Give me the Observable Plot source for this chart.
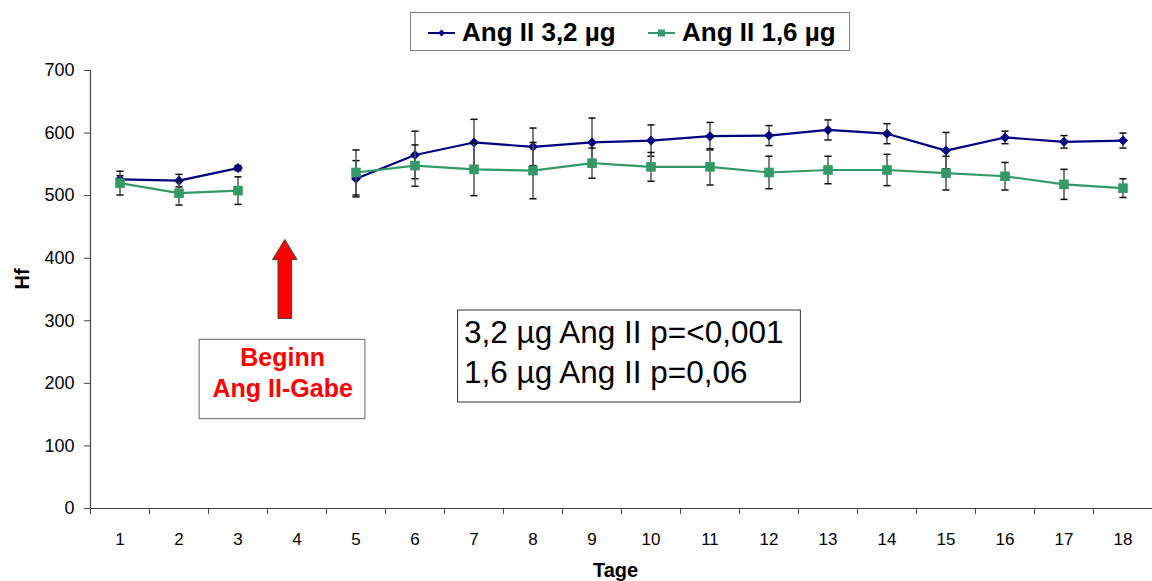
<!DOCTYPE html>
<html><head><meta charset="utf-8">
<script src="https://cdn.jsdelivr.net/npm/d3@7"></script>
<script src="https://cdn.jsdelivr.net/npm/@observablehq/plot@0.6"></script>
<style>
body{margin:0;background:#fff;font-family:"Liberation Sans",Arial,sans-serif;}
#top{width:1152px;height:58px;}
#chart svg{display:block;}
</style></head><body>
<div id="top"></div>
<div id="chart"></div>
<script>
// ---- data ----
const days = d3.range(1, 19);
const seriesNames = ["Ang II 3,2 µg", "Ang II 1,6 µg"];
const hf32  = [526, 524, 544, null, 527, 565, 585, 578, 585, 588, 595, 596, 605, 599, 572, 593, 586, 588];
const err32 = [6, 10, 4, null, 29, 38, 37, 30, 39, 25, 22, 16, 16, 16, 29, 10, 10, 12];
const hf16  = [520, 504, 508, null, 537, 548, 542, 540, 552, 546, 546, 537, 541, 541, 536, 531, 518, 512];
const err16 = [19, 19, 22, null, 36, 33, 42, 45, 24, 23, 29, 26, 22, 25, 27, 22, 24, 15];
const yTicks = [0, 100, 200, 300, 400, 500, 600, 700];
const statsLines = ["3,2 µg Ang II p=<0,001", "1,6 µg Ang II p=0,06"];
const beginnLines = ["Beginn", "Ang II-Gabe"];
const xLabel = "Tage", yLabel = "Hf";

const navy = "#000080", green = "#339966";

const rows32 = days.map((d, i) => ({day: d, v: hf32[i], e: err32[i]}));
const rows16 = days.map((d, i) => ({day: d, v: hf16[i], e: err16[i]}));
const ok = rows => rows.filter(r => r.v != null);

// ---- symbols ----
const diamond = {draw(ctx) { const s = 5; ctx.moveTo(0, -s); ctx.lineTo(s, 0); ctx.lineTo(0, s); ctx.lineTo(-s, 0); ctx.closePath(); }};
const square = {draw(ctx) { const s = 4.8; ctx.rect(-s, -s, 2 * s, 2 * s); }};
const cap = {draw(ctx) { ctx.moveTo(-3.6, 0); ctx.lineTo(3.6, 0); }};
const blockArrow = {draw(ctx) {
  ctx.moveTo(0, -40); ctx.lineTo(12.2, -20); ctx.lineTo(6.8, -20); ctx.lineTo(6.8, 39);
  ctx.lineTo(-6.8, 39); ctx.lineTo(-6.8, -20); ctx.lineTo(-12.2, -20); ctx.closePath();
}};

function seriesMarks(rows, color, sym) {
  const r = ok(rows);
  return [
    Plot.line(rows, {x: "day", y: "v", stroke: color, strokeWidth: 2.2}),
    Plot.ruleX(r, {x: "day", y1: d => d.v - d.e, y2: d => d.v + d.e, stroke: "#555", strokeWidth: 1.5}),
    Plot.dot(r, {x: "day", y: d => d.v + d.e, symbol: cap, stroke: "#111", strokeWidth: 1.5}),
    Plot.dot(r, {x: "day", y: d => d.v - d.e, symbol: cap, stroke: "#111", strokeWidth: 1.5}),
    Plot.dot(r, {x: "day", y: "v", symbol: sym, fill: color, stroke: "none"})
  ];
}

// ---- legend (above the plot) ----
const lg = d3.select("#top").append("svg").attr("width", 1152).attr("height", 58).style("display", "block");
lg.append("rect").attr("x", 410.5).attr("y", 12.5).attr("width", 439).attr("height", 38)
  .attr("fill", "#fff").attr("stroke", "#808080");
const legItems = [
  {x: 428, color: navy, shape: "diamond", name: seriesNames[0]},
  {x: 648, color: green, shape: "square", name: seriesNames[1]}
];
legItems.forEach(it => {
  lg.append("line").attr("x1", it.x).attr("x2", it.x + 27).attr("y1", 33).attr("y2", 33)
    .attr("stroke", it.color).attr("stroke-width", 2);
  const cx = it.x + 13.5;
  if (it.shape === "diamond") {
    lg.append("path").attr("d", `M${cx},29.5L${cx + 3.5},33L${cx},36.5L${cx - 3.5},33Z`).attr("fill", it.color);
  } else {
    lg.append("rect").attr("x", cx - 3.5).attr("y", 29.5).attr("width", 7).attr("height", 7).attr("fill", it.color);
  }
  lg.append("text").attr("x", it.x + 34).attr("y", 40.5).attr("font-size", 26).attr("font-weight", "bold")
    .attr("font-family", '"Liberation Sans",Arial,sans-serif').attr("fill", "#000").text(it.name);
});

// ---- chart ----
const chart = Plot.plot({
  width: 1152, height: 523,
  marginLeft: 90, marginRight: 0, marginTop: 12, marginBottom: 73,
  style: {fontFamily: '"Liberation Sans",Arial,sans-serif', fontSize: "15px", color: "#000", background: "#fff", overflow: "visible"},
  x: {type: "linear", domain: [0.5, 18.5], axis: null},
  y: {domain: [0, 700], axis: null},
  marks: [
    Plot.axisY({ticks: yTicks, tickSize: 6, tickPadding: 10, label: null, stroke: "#444", fontSize: 18}),
    Plot.axisX({ticks: d3.range(0.5, 19, 1), tickSize: 6, tickFormat: () => "", label: null, stroke: "#444"}),
    Plot.axisX({ticks: days, tickSize: 0, tickPadding: 24, tickFormat: d => String(d), label: null, fontSize: 17}),
    Plot.ruleY([0], {stroke: "#444", strokeWidth: 1.2}),
    Plot.ruleX([0.5], {stroke: "#444", strokeWidth: 1.2}),
    Plot.text([xLabel], {x: 9.4, y: 0, dy: 68, lineAnchor: "bottom", fontWeight: "bold", fontSize: 20, text: d => d}),
    Plot.text([yLabel], {frameAnchor: "left", dx: -68, rotate: -90, fontWeight: "bold", fontSize: 20, text: d => d}),
    // annotation: arrow + Beginn box
    Plot.dot([0], {x: 3.793, y: 366, symbol: blockArrow, fill: "#ff0000", stroke: "#444", strokeWidth: 1}),
    Plot.rect([0], {x1: 2.35, x2: 5.16, y1: 142.7, y2: 269.6, fill: "#fff", stroke: "#666", strokeWidth: 1}),
    Plot.text([beginnLines[0]], {x: 3.757, y: 228.5, lineAnchor: "bottom", fill: "#ff0000", fontWeight: "bold", fontSize: 25, text: d => d}),
    Plot.text([beginnLines[1]], {x: 3.757, y: 177.9, lineAnchor: "bottom", fill: "#ff0000", fontWeight: "bold", fontSize: 25, text: d => d}),
    // stats box
    Plot.rect([0], {x1: 6.73, x2: 12.54, y1: 169.4, y2: 316.4, fill: "#fff", stroke: "#333", strokeWidth: 1}),
    Plot.text([statsLines[0]], {x: 6.73, y: 263.7, dx: 6, textAnchor: "start", lineAnchor: "bottom", fontSize: 31.5, text: d => d}),
    Plot.text([statsLines[1]], {x: 6.73, y: 200.3, dx: 6, textAnchor: "start", lineAnchor: "bottom", fontSize: 31.5, text: d => d}),
    // series
    ...seriesMarks(rows32, navy, diamond),
    ...seriesMarks(rows16, green, square)
  ]
});
document.getElementById("chart").appendChild(chart);
</script>
</body></html>
